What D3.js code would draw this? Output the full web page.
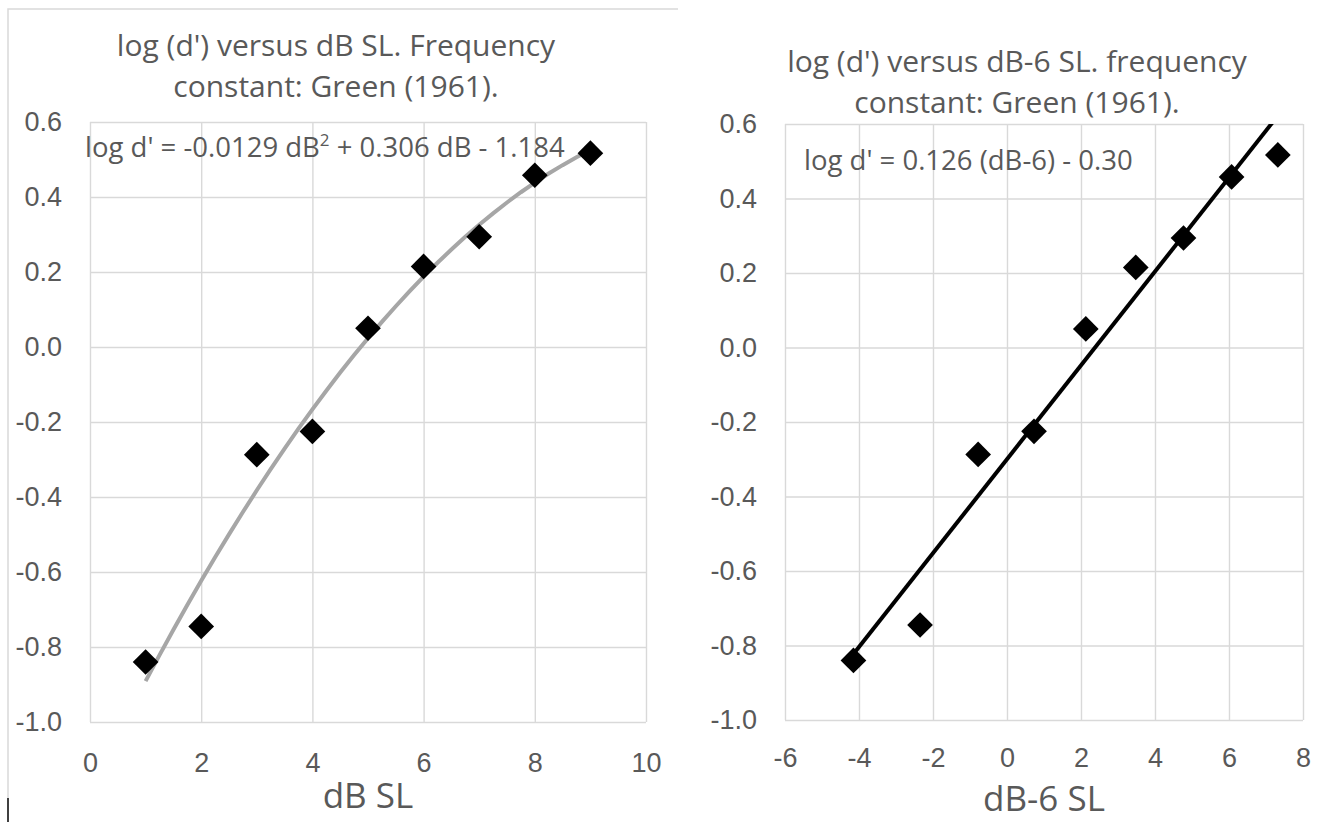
<!DOCTYPE html>
<html>
<head>
<meta charset="utf-8">
<script src="https://cdn.jsdelivr.net/npm/d3@7"></script>
<style>
  body { margin: 0; background: #ffffff; }
  svg { display: block; font-family: "Open Sans", "Noto Sans", sans-serif; }
  .tick text { fill: #595959; }
</style>
</head>
<body>
<div id="chart"></div>
<script>
// data
const dbSL = [1, 2, 3, 4, 5, 6, 7, 8, 9];
const dbMinus6 = [-4.15, -2.35, -0.78, 0.73, 2.13, 3.48, 4.77, 6.07, 7.32];
const logD = [-0.84, -0.745, -0.287, -0.225, 0.05, 0.215, 0.294, 0.458, 0.517];

// tick labels
const yTicks = [-1.0, -0.8, -0.6, -0.4, -0.2, 0.0, 0.2, 0.4, 0.6];
const leftXTicks = [0, 2, 4, 6, 8, 10];
const rightXTicks = [-6, -4, -2, 0, 2, 4, 6, 8];

// trendline coefficients, as printed on the charts
const quadFit = [-0.0129, 0.306, -1.184];
const linFit = [0.126, -0.30];

const leftTitle = ["log (d') versus dB SL. Frequency", "constant: Green (1961)."];
const rightTitle = ["log (d') versus dB-6 SL. frequency", "constant: Green (1961)."];

var svg = d3.select("#chart").append("svg")
  .attr("width", 1320)
  .attr("height", 822);

/**
 * Draws one scatter panel with grid, axes, title, equation and trendline.
 */
function drawPanel(p) {
  var x = d3.scaleLinear().domain(p.xDomain).range([p.left, p.right]);
  var y = d3.scaleLinear().domain([-1.0, 0.6]).range([p.bottom, p.top]);
  var g = svg.append("g");

  // vertical gridlines + x tick labels
  var xa = g.append("g")
    .attr("transform", "translate(0," + p.bottom + ")")
    .call(d3.axisBottom(x)
      .tickValues(p.xTicks)
      .tickSize(-(p.bottom - p.top))
      .tickSizeOuter(0)
      .tickPadding(p.xPad)
      .tickFormat(function(d) { return String(d); }));
  xa.select(".domain").remove();
  xa.selectAll("line").attr("stroke", "#d9d9d9").attr("stroke-width", 1.4);
  xa.selectAll("text").style("font-size", "27px");

  // horizontal gridlines + y tick labels
  var ya = g.append("g")
    .attr("transform", "translate(" + p.left + ",0)")
    .call(d3.axisLeft(y)
      .tickValues(yTicks)
      .tickSize(-(p.right - p.left))
      .tickSizeOuter(0)
      .tickPadding(28)
      .tickFormat(function(d) { return d.toFixed(1); }));
  ya.select(".domain").remove();
  ya.selectAll("line").attr("stroke", "#d9d9d9").attr("stroke-width", 1.4);
  ya.selectAll("text").style("font-size", "27px");

  // title
  g.append("text")
    .attr("x", p.titleX)
    .attr("y", p.titleY)
    .attr("text-anchor", "middle")
    .attr("fill", "#595959")
    .style("font-size", "30px")
    .selectAll("tspan")
    .data(p.title)
    .enter().append("tspan")
    .attr("x", p.titleX)
    .attr("dy", function(d, i) { return i == 0 ? 0 : 41; })
    .text(function(d) { return d; });

  // x axis title
  g.append("text")
    .attr("x", (p.left + p.right) / 2)
    .attr("y", p.xTitleY)
    .attr("text-anchor", "middle")
    .attr("fill", "#595959")
    .style("font-size", "35px")
    .text(p.xTitle);

  // trendline, clipped to the plot area
  svg.append("clipPath")
    .attr("id", p.id + "-clip")
    .append("rect")
    .attr("x", p.left)
    .attr("y", p.top)
    .attr("width", p.right - p.left)
    .attr("height", p.bottom - p.top);

  var line = d3.line()
    .x(function(d) { return x(d[0]); })
    .y(function(d) { return y(d[1]); });

  g.append("path")
    .datum(p.fit)
    .attr("clip-path", "url(#" + p.id + "-clip)")
    .attr("fill", "none")
    .attr("stroke", p.fitColor)
    .attr("stroke-width", 4)
    .attr("d", line);

  // diamond markers
  g.selectAll(".pt")
    .data(p.xs)
    .enter().append("path")
    .attr("class", "pt")
    .attr("d", d3.symbol().type(d3.symbolSquare).size(330))
    .attr("fill", "#000000")
    .attr("transform", function(d, i) {
      return "translate(" + x(d) + "," + y(logD[i]) + ") rotate(45)";
    });

  // equation label
  var eq = g.append("text")
    .attr("x", p.eqX)
    .attr("y", p.eqY)
    .attr("fill", "#595959")
    .style("font-size", "27.5px");
  p.eq(eq);
}

var quadCurve = d3.range(1, 9.001, 0.25).map(function(v) {
  return [v, quadFit[0] * v * v + quadFit[1] * v + quadFit[2]];
});
var linLine = [dbMinus6[0], dbMinus6[dbMinus6.length - 1]].map(function(v) {
  return [v, linFit[0] * v + linFit[1]];
});

drawPanel({
  id: "left",
  left: 90, right: 646, top: 122, bottom: 722,
  xDomain: [0, 10], xTicks: leftXTicks, xPad: 31,
  xs: dbSL,
  title: leftTitle, titleX: 336, titleY: 56,
  xTitle: "dB SL", xTitleY: 808,
  fit: quadCurve, fitColor: "#a6a6a6",
  eqX: 85, eqY: 157,
  eq: function(t) {
    t.append("tspan").text("log d' = -0.0129 dB");
    t.append("tspan").attr("baseline-shift", "super").style("font-size", "17px").text("2");
    t.append("tspan").text(" + 0.306 dB - 1.184");
  }
});

drawPanel({
  id: "right",
  left: 785, right: 1303, top: 124, bottom: 720,
  xDomain: [-6, 8], xTicks: rightXTicks, xPad: 28,
  xs: dbMinus6,
  title: rightTitle, titleX: 1017, titleY: 72,
  xTitle: "dB-6 SL", xTitleY: 811,
  fit: linLine, fitColor: "#000000",
  eqX: 804, eqY: 170,
  eq: function(t) {
    t.text("log d' = 0.126 (dB-6) - 0.30");
  }
});

// outer frame of the left chart
svg.append("path")
  .attr("d", "M8,798 V9 H678")
  .attr("fill", "none")
  .attr("stroke", "#d9d9d9")
  .attr("stroke-width", 1.5);
svg.append("line")
  .attr("x1", 8).attr("x2", 8)
  .attr("y1", 798).attr("y2", 822)
  .attr("stroke", "#404040")
  .attr("stroke-width", 2);
</script>
</body>
</html>
